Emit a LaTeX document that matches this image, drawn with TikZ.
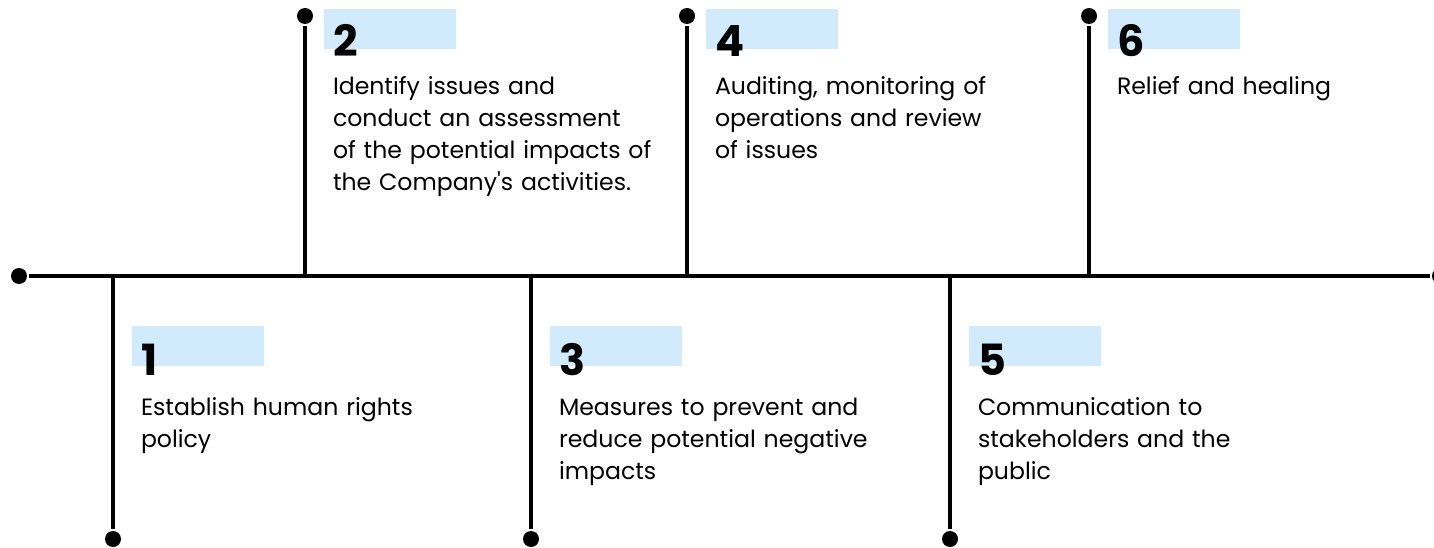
\documentclass[tikz,border=0pt]{standalone}
\usepackage{fontspec}
\setmainfont{Poppins}
\definecolor{stepblue}{RGB}{210,235,252}
\tikzset{
  dot/.style={fill,circle,inner sep=0pt,minimum size=16pt},
  numbox/.style={fill=stepblue,minimum width=132pt,minimum height=40pt,inner sep=0pt,anchor=north west},
  num/.style={anchor=base west,inner sep=0pt,font=\fontsize{43}{43}\selectfont\bfseries},
  desc/.style={anchor=base west,inner sep=0pt,text width=360pt,align=left,font=\fontsize{23.6}{32}\selectfont},
}
\begin{document}
\begin{tikzpicture}[x=1pt,y=-1pt,line width=4pt]
\useasboundingbox (0,0) rectangle (1434,548);

% the time line
\node[dot] (start) at (19,276) {};
\node[dot] (end) at (1440,276) {};
\draw (start) -- (end);

% stems, down for odd steps and up for even ones
\coordinate (j1) at (113,276); \node[dot] (d1) at (113,539) {}; \draw (j1) -- (d1);
\coordinate (j2) at (305,276); \node[dot] (d2) at (305,16) {};  \draw (j2) -- (d2);
\coordinate (j3) at (531,276); \node[dot] (d3) at (531,539) {}; \draw (j3) -- (d3);
\coordinate (j4) at (687,276); \node[dot] (d4) at (687,16) {};  \draw (j4) -- (d4);
\coordinate (j5) at (950,276); \node[dot] (d5) at (950,539) {}; \draw (j5) -- (d5);
\coordinate (j6) at (1089,276); \node[dot] (d6) at (1089,16) {}; \draw (j6) -- (d6);

% step 1
\node[numbox] (b1) at (130,324) {};
\node[num] (n1) at (139,375) {1};
\node[desc] (t1) at (139,415) {Establish human rights\\policy};
% step 2
\node[numbox] (b2) at (322,7) {};
\node[num] (n2) at (331,57) {2};
\node[desc] (t2) at (331,95) {Identify issues and\\conduct an assessment\\of the potential impacts of\\the Company\textquotesingle s activities.};
% step 3
\node[numbox] (b3) at (548,324) {};
\node[num] (n3) at (557,375) {3};
\node[desc] (t3) at (557,415) {Measures to prevent and\\reduce potential negative\\impacts};
% step 4
\node[numbox] (b4) at (704,7) {};
\node[num] (n4) at (713,57) {4};
\node[desc] (t4) at (713,95) {Auditing, monitoring of\\operations and review\\of issues};
% step 5
\node[numbox] (b5) at (967,324) {};
\node[num] (n5) at (976,375) {5};
\node[desc] (t5) at (976,415) {Communication to\\stakeholders and the\\public};
% step 6
\node[numbox] (b6) at (1106,7) {};
\node[num] (n6) at (1115,57) {6};
\node[desc] (t6) at (1115,95) {Relief and healing};
\end{tikzpicture}
\end{document}
